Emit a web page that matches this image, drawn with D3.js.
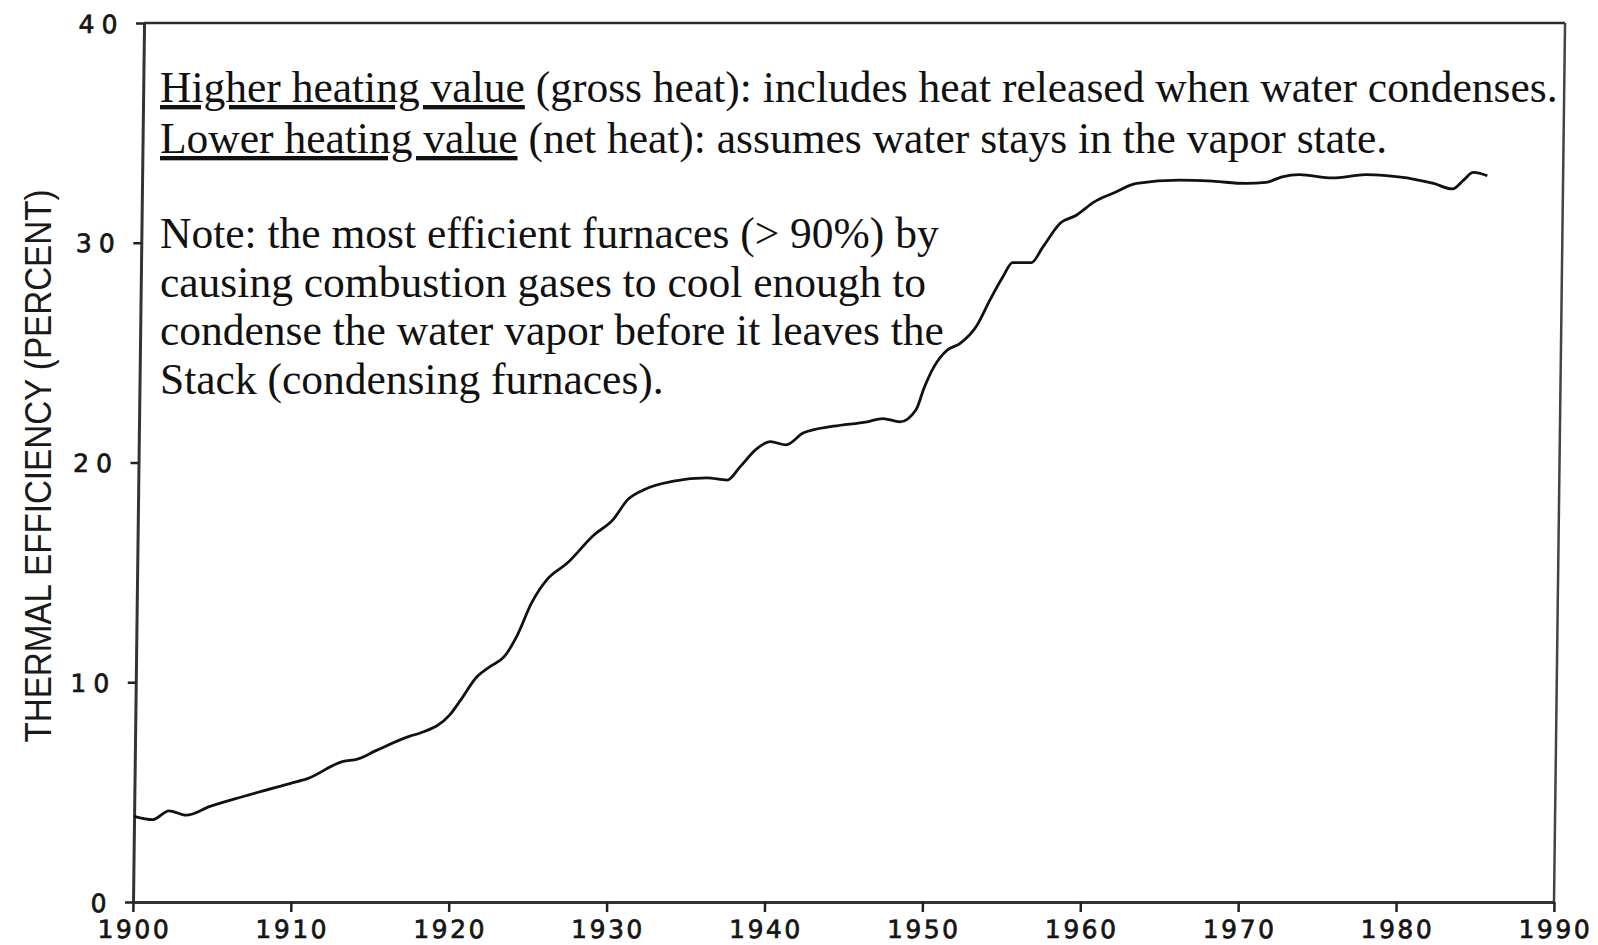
<!DOCTYPE html>
<html>
<head>
<meta charset="utf-8">
<script src="https://cdn.jsdelivr.net/npm/d3@7/dist/d3.min.js"></script>
<style>
  body { margin: 0; background: #fff; }
  svg { display: block; }
</style>
</head>
<body>
<script>
// values
const years = [1900.0, 1901.2, 1902.2, 1903.3, 1904.8, 1906.9, 1909.9, 1910.9, 1913.2, 1914.1,
  1915.3, 1917.4, 1918.1, 1919.9, 1920.6, 1921.6, 1922.4, 1923.3, 1924.1, 1925.0,
  1926.0, 1927.2, 1928.9, 1930.1, 1931.0, 1932.0, 1933.9, 1936.0, 1937.3, 1938.1,
  1939.1, 1940.0, 1941.0, 1942.1, 1944.0, 1946.1, 1947.1, 1948.2, 1949.2, 1949.7,
  1950.3, 1951.1, 1951.9, 1953.0, 1953.8, 1954.6, 1955.2, 1956.4, 1957.1, 1958.2,
  1959.2, 1960.3, 1961.5, 1963.0, 1965.7, 1967.8, 1969.9, 1971.2, 1972.2, 1973.3,
  1975.4, 1977.5, 1978.8, 1980.5, 1981.8, 1983.0, 1983.7, 1984.3, 1985.2];
const efficiency = [3.9, 3.75, 4.15, 3.95, 4.35, 4.8, 5.4, 5.6, 6.4, 6.5,
  6.9, 7.55, 7.7, 8.5, 9.2, 10.25, 10.7, 11.15, 12.1, 13.6,
  14.7, 15.4, 16.7, 17.4, 18.3, 18.75, 19.15, 19.3, 19.2, 19.8,
  20.6, 20.95, 20.8, 21.35, 21.65, 21.85, 22.0, 21.85, 22.4, 23.4,
  24.35, 25.1, 25.4, 26.25, 27.4, 28.45, 29.1, 29.1, 29.8, 30.9,
  31.25, 31.85, 32.25, 32.7, 32.85, 32.8, 32.7, 32.75, 33.0, 33.1,
  32.95, 33.1, 33.05, 32.9, 32.7, 32.45, 32.85, 33.2, 33.05];

const xTickYears = [1900, 1910, 1920, 1930, 1940, 1950, 1960, 1970, 1980, 1990];
const yTickValues = [0, 10, 20, 30, 40];
const yTitle = "THERMAL EFFICIENCY (PERCENT)";

const heatingTerms = ["Higher heating value", "Lower heating value"];
const heatingRest = [" (gross heat): includes heat released when water condenses.",
  " (net heat): assumes water stays in the vapor state."];
const noteLines = ["Note: the most efficient furnaces (> 90%) by",
  "causing combustion gases to cool enough to",
  "condense the water vapor before it leaves the",
  "Stack (condensing furnaces)."];

const width = 1598, height = 945;
const plotLeft = 133, plotRight = 1554, plotBottom = 902, plotTop = 23;
const skewDeg = -0.72; // the scan leans a little to the right

const x = d3.scaleLinear().domain([1900, 1990]).range([plotLeft, plotRight]);
const y = d3.scaleLinear().domain([0, 40]).range([plotBottom, plotTop]);

const svg = d3.select("body").append("svg")
  .attr("width", width)
  .attr("height", height);

const plot = svg.append("g")
  .attr("transform", `translate(0,${plotBottom}) skewX(${skewDeg}) translate(0,${-plotBottom})`);

// frame (top and right)
plot.append("line")
  .attr("x1", x(1900)).attr("y1", y(40))
  .attr("x2", x(1990)).attr("y2", y(40))
  .attr("stroke", "#2a2a2a").attr("stroke-width", 2.5);
plot.append("line")
  .attr("x1", x(1990)).attr("y1", y(40))
  .attr("x2", x(1990)).attr("y2", y(0))
  .attr("stroke", "#444").attr("stroke-width", 2.5);

// axes
const xAxis = plot.append("g")
  .attr("transform", `translate(0,${plotBottom})`)
  .call(d3.axisBottom(x).tickValues(xTickYears).tickSize(10).tickSizeOuter(0).tickFormat(d3.format("d")));

const yAxis = plot.append("g")
  .attr("transform", `translate(${plotLeft},0)`)
  .call(d3.axisLeft(y).tickValues(yTickValues).tickSize(8).tickSizeOuter(0).tickPadding(11.5));

[xAxis, yAxis].forEach(a => {
  a.select(".domain").attr("stroke", "#333").attr("stroke-width", 3);
  a.selectAll(".tick line").attr("stroke", "#222").attr("stroke-width", 2.5);
  a.selectAll(".tick text")
    .attr("font-family", "DejaVu Sans")
    .attr("font-size", 25)
    .attr("fill", "#151515")
    .attr("stroke", "#151515")
    .attr("stroke-width", 0.7);
});
xAxis.selectAll(".tick text").attr("letter-spacing", 2.5).attr("y", 36).attr("dy", 0).attr("dx", 1.2);
yAxis.selectAll(".tick text").attr("letter-spacing", 7).attr("dy", "0.36em");

// the efficiency curve
const pts = years.map((yr, i) => ({ year: yr, value: efficiency[i] }));
plot.append("path")
  .datum(pts)
  .attr("fill", "none")
  .attr("stroke", "#111")
  .attr("stroke-width", 2.8)
  .attr("stroke-linejoin", "round")
  .attr("d", d3.line()
    .x(d => x(d.year))
    .y(d => y(d.value))
    .curve(d3.curveMonotoneX));

// y axis title
svg.append("text")
  .attr("transform", "translate(51,466) rotate(-90)")
  .attr("text-anchor", "middle")
  .attr("font-family", "Liberation Sans")
  .attr("font-size", 37)
  .attr("textLength", 553)
  .attr("lengthAdjust", "spacingAndGlyphs")
  .attr("fill", "#1a1a1a")
  .text(yTitle);

// annotations
const serif = "Liberation Serif";
const headBase = [102, 153];
heatingTerms.forEach((term, i) => {
  const t = svg.append("text")
    .attr("x", 160).attr("y", headBase[i])
    .attr("font-family", serif)
    .attr("font-size", 43.5)
    .attr("fill", "#111");
  t.append("tspan").attr("text-decoration", "underline").text(term);
  t.append("tspan").text(heatingRest[i]);
});

svg.append("g").selectAll("text")
  .data(noteLines)
  .enter().append("text")
  .attr("x", 160)
  .attr("y", (d, i) => 248 + i * 48.6)
  .attr("font-family", serif)
  .attr("font-size", 43.5)
  .attr("fill", "#111")
  .text(d => d);
</script>
</body>
</html>
